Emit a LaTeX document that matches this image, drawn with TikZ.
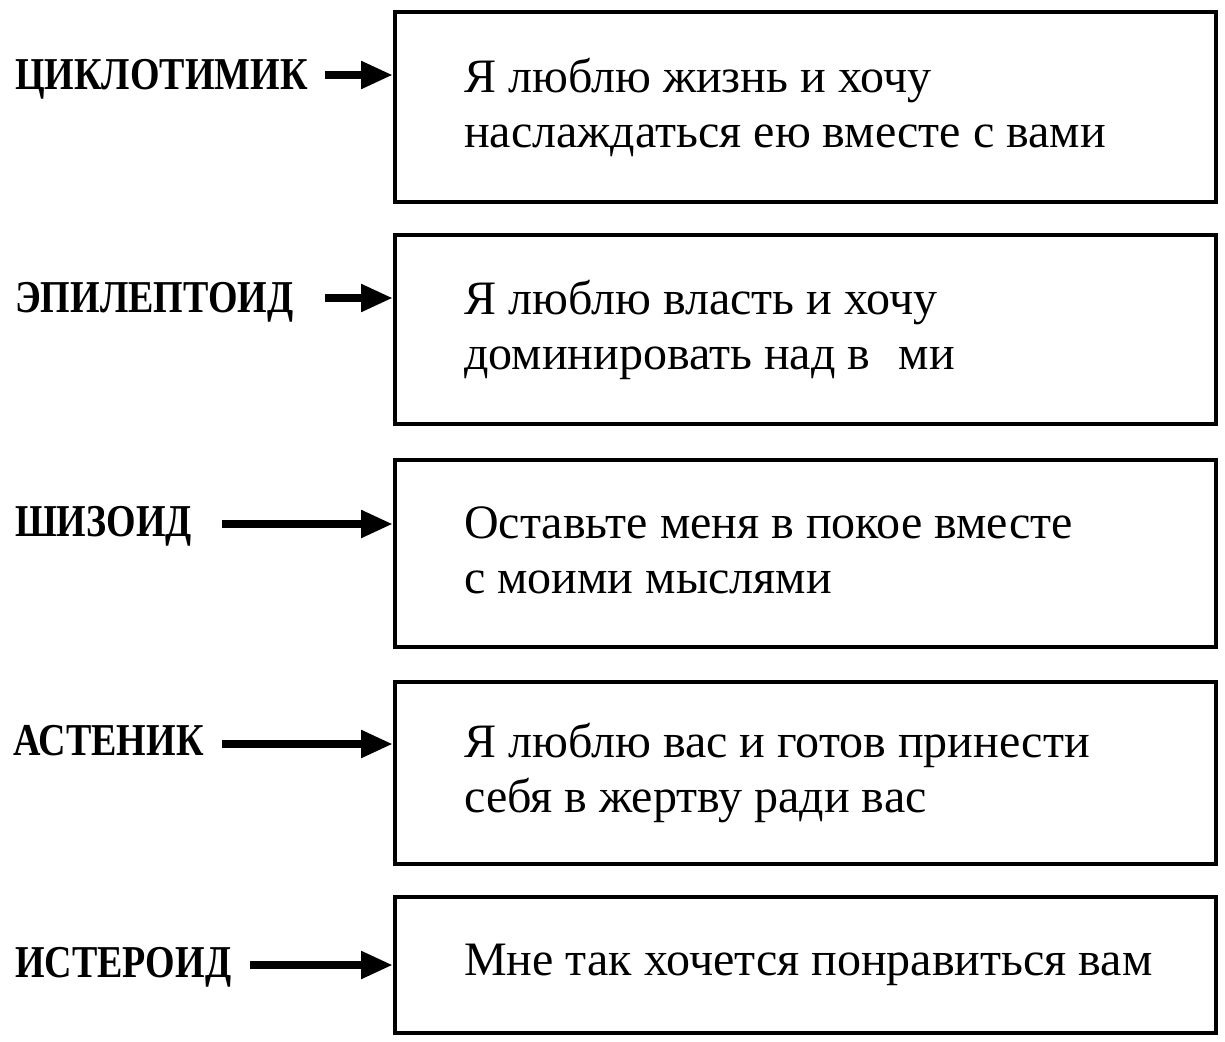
\documentclass[tikz,border=0pt]{standalone}
\usepackage{fontspec}
\setmainfont{Liberation Serif}
\usetikzlibrary{arrows.meta,positioning}

\newcommand{\tall}[1]{\scalebox{1}[1.2]{#1}}

\begin{document}
\begin{tikzpicture}[x=1pt,y=1pt,
	typ/.style={font=\fontsize{38}{42}\selectfont\bfseries, anchor=base west, inner sep=0pt},
	card/.style={draw, line width=4pt, minimum width=821pt, inner sep=0pt, anchor=north west},
	saying/.style={font=\fontsize{48}{55}\selectfont, align=left, inner sep=0pt, anchor=west},
	pointer/.style={line width=8pt, -{Triangle[length=32pt,width=26pt]}}]
	\useasboundingbox (0,0) rectangle (1225,-1041);

	% boxes
	\node[card, minimum height=190pt] (b1) at (393,-10) {};
	\node[card, minimum height=189pt] (b2) at (393,-233) {};
	\node[card, minimum height=187pt] (b3) at (393,-458) {};
	\node[card, minimum height=182pt] (b4) at (393,-680) {};
	\node[card, minimum height=136pt] (b5) at (393,-895) {};

	\node[saying, right=71pt of b1.west] (s1) {Я люблю жизнь и хочу\\наслаждаться ею вместе с вами};
	\node[saying, right=71pt of b2.west] (s2) {Я люблю власть и хочу\\доминировать над в\hspace{0.6em}ми};
	\node[saying, right=71pt of b3.west, yshift=3pt] (s3) {Оставьте меня в покое вместе\\с моими мыслями};
	\node[saying, right=71pt of b4.west] (s4) {Я люблю вас и готов принести\\себя в жертву ради вас};
	\node[saying, right=71pt of b5.west] (s5) {Мне так хочется понравиться вам};

	% types
	\node[typ] (t1) at (15,-89) {\tall{ЦИКЛОТИМИК}};
	\node[typ] (t2) at (15,-312) {\tall{ЭПИЛЕПТОИД}};
	\node[typ] (t3) at (15,-536) {\tall{ШИЗОИД}};
	\node[typ] (t4) at (13,-755) {\tall{АСТЕНИК}};
	\node[typ] (t5) at (15,-977) {\tall{ИСТЕРОИД}};

	\coordinate (a1) at (325,-75);
	\coordinate (a2) at (325,-298);
	\coordinate (a3) at (222,-524);
	\coordinate (a4) at (222,-744);
	\coordinate (a5) at (250,-965);

	\draw[pointer] (a1) -- (a1 -| b1.west);
	\draw[pointer] (a2) -- (a2 -| b2.west);
	\draw[pointer] (a3) -- (a3 -| b3.west);
	\draw[pointer] (a4) -- (a4 -| b4.west);
	\draw[pointer] (a5) -- (a5 -| b5.west);
\end{tikzpicture}
\end{document}
